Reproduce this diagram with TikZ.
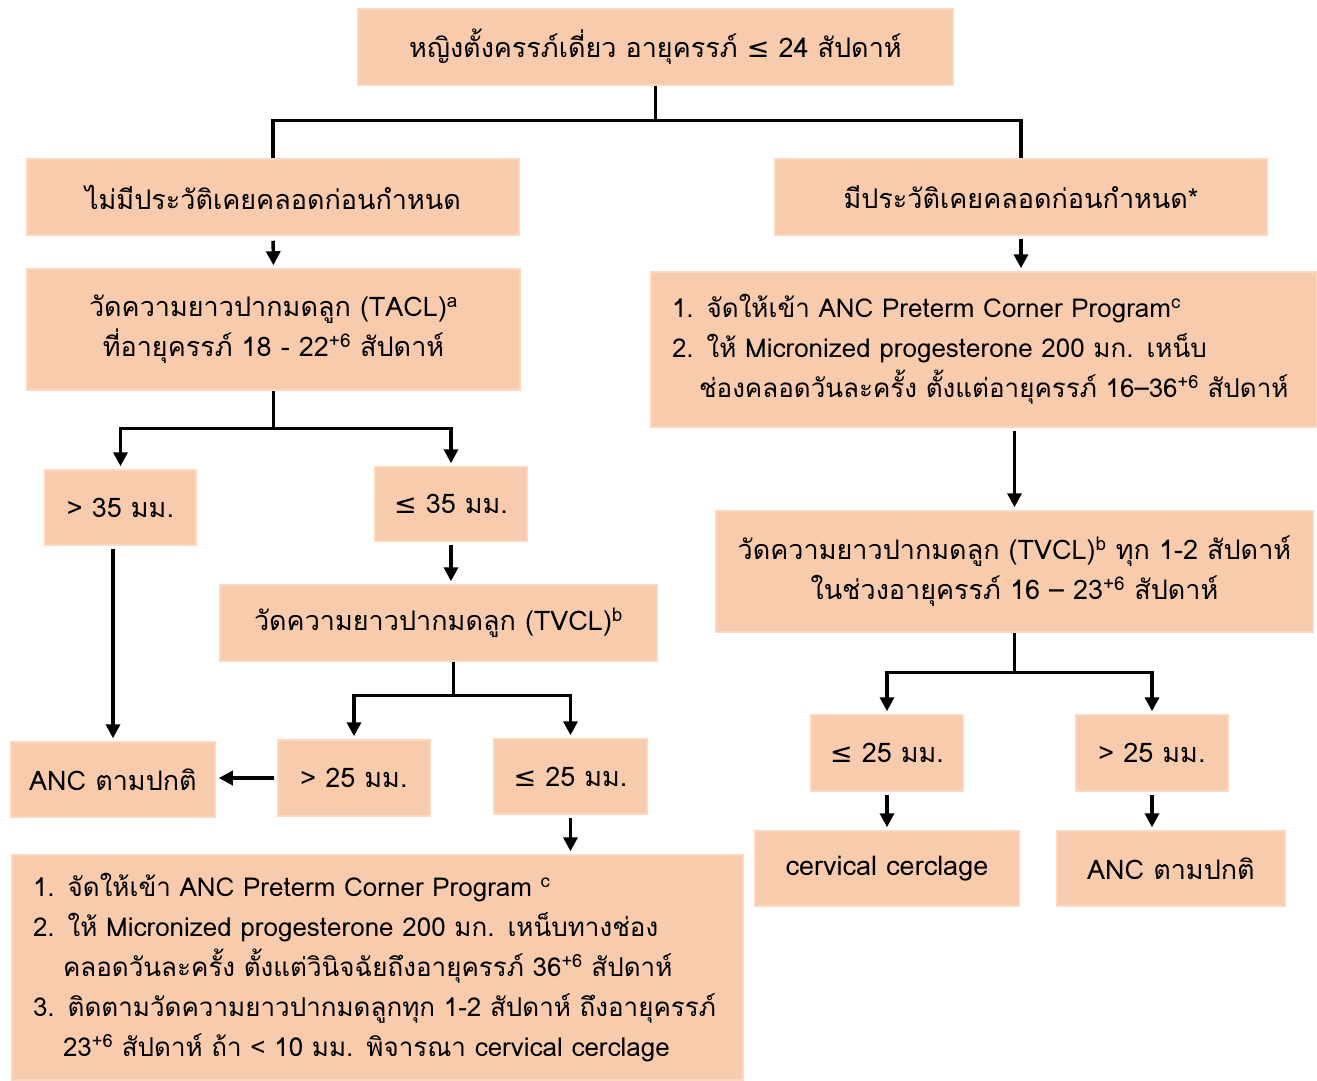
\documentclass[tikz,border=0pt]{standalone}
\usepackage{fontspec}
\setmainfont[Script=Thai]{Loma}
\newfontfamily\dvfont{DejaVu Sans}
\newcommand\lequ{{\dvfont ≤}}
\usetikzlibrary{arrows.meta}
\definecolor{boxfill}{HTML}{F8CBAD}
\definecolor{boxedge}{HTML}{FAD8C2}
\begin{document}
\begin{tikzpicture}[x=1pt,y=-1pt,
  box/.style={fill=boxfill, draw=boxedge, line width=1.5pt, inner sep=0pt, align=center, font=\fontsize{27}{40}\selectfont},
  listbox/.style={box, align=left, inner xsep=21pt},
  conn/.style={line width=3.4pt, black},
  arr/.style={conn, -{Triangle[length=14pt,width=14pt]}, shorten >=3pt}]
\fill[white] (0,0) rectangle (1317,1080);
\useasboundingbox (0,0) rectangle (1317,1080);

\node[box, minimum width=595pt, minimum height=76pt] (top) at (655.5,47) {หญิงตั้งครรภ์เดี่ยว อายุครรภ์ \lequ{} 24 สัปดาห์};
\node[box, minimum width=492pt, minimum height=76pt] (L1) at (273,197) {ไม่มีประวัติเคยคลอดก่อนกำหนด};
\node[box, minimum width=492pt, minimum height=76pt] (R1) at (1021,197) {มีประวัติเคยคลอดก่อนกำหนด*};
\node[box, minimum width=493pt, minimum height=121pt] (tacl) at (273.5,329.5) {วัดความยาวปากมดลูก (TACL)\textsuperscript{a}\\ที่อายุครรภ์ 18 - 22\textsuperscript{+6} สัปดาห์};
\node[listbox, minimum width=666pt, text width=624pt, minimum height=155pt, font=\fontsize{26}{40}\selectfont] (prog) at (984,349.5) {1. จัดให้เข้า ANC Preterm Corner Program\textsuperscript{c}\\2. ให้ Micronized progesterone 200 มก. เหน็บ\\\hspace*{27pt}ช่องคลอดวันละครั้ง ตั้งแต่อายุครรภ์ 16–36\textsuperscript{+6} สัปดาห์};
\node[box, minimum width=151pt, minimum height=75pt] (g35) at (120.5,507.5) {> 35 มม.};
\node[box, minimum width=152pt, minimum height=74pt] (le35) at (451,504) {\lequ{} 35 มม.};
\node[box, minimum width=437pt, minimum height=76pt] (tvclL) at (438.5,623) {วัดความยาวปากมดลูก (TVCL)\textsuperscript{b}};
\node[box, minimum width=597pt, minimum height=121pt] (tvclR) at (1014.5,571.5) {วัดความยาวปากมดลูก (TVCL)\textsuperscript{b} ทุก 1-2 สัปดาห์\\ในช่วงอายุครรภ์ 16 – 23\textsuperscript{+6} สัปดาห์};
\node[box, minimum width=204pt, minimum height=75pt] (ancL) at (113,779.5) {ANC ตามปกติ};
\node[box, minimum width=152pt, minimum height=76pt] (g25L) at (354,778) {> 25 มม.};
\node[box, minimum width=153pt, minimum height=75pt] (le25L) at (570.5,776.5) {\lequ{} 25 มม.};
\node[listbox, minimum width=731pt, text width=689pt, minimum height=225pt, font=\fontsize{26}{40}\selectfont] (bottom) at (377.5,967.5) {1. จัดให้เข้า ANC Preterm Corner Program \textsuperscript{c}\\2. ให้ Micronized progesterone 200 มก. เหน็บทางช่อง\\\hspace*{30pt}คลอดวันละครั้ง ตั้งแต่วินิจฉัยถึงอายุครรภ์ 36\textsuperscript{+6} สัปดาห์\\\mbox{3. ติดตามวัดความยาวปากมดลูกทุก 1-2 สัปดาห์ ถึงอายุครรภ์}\\\hspace*{30pt}23\textsuperscript{+6} สัปดาห์ ถ้า < 10 มม. พิจารณา cervical cerclage};
\node[box, minimum width=152pt, minimum height=76pt] (le25R) at (887,753) {\lequ{} 25 มม.};
\node[box, minimum width=152pt, minimum height=76pt] (g25R) at (1152,753) {> 25 มม.};
\node[box, minimum width=264pt, minimum height=75pt] (cerc) at (887,868.5) {cervical cerclage};
\node[box, minimum width=228pt, minimum height=75pt] (ancR) at (1171,868.5) {ANC ตามปกติ};

% connectors
\draw[conn] (top.south) -- ++(0,35) coordinate (j1);
\draw[conn] (L1.north) |- (j1) -| (R1.north);
\draw[arr, shorten <=5pt] (L1.south) -- (tacl.north);
\draw[conn] (tacl.south) -- ++(0,38) coordinate (j2);
\draw[arr] (j2) -| (g35.north);
\draw[arr] (j2) -| (le35.north);
\draw[arr, shorten <=3pt] (g35.south -| ancL.north) -- (ancL.north);
\draw[arr, shorten <=3pt] (le35.south) -- (le35.south |- tvclL.north);
\draw[conn] ([xshift=15pt]tvclL.south) -- ++(0,34) coordinate (j3);
\draw[arr] (j3) -| (g25L.north);
\draw[arr] (j3) -| (le25L.north);
\draw[arr, shorten <=3pt] (g25L.west) -- (ancL.east |- g25L.west);
\draw[arr, shorten <=3pt] (le25L.south) -- (le25L.south |- bottom.north);
\draw[arr, shorten <=3pt] (R1.south) -- (R1.south |- prog.north);
\draw[arr, shorten <=3pt] (prog.south -| tvclR.north) -- (tvclR.north);
\draw[conn] (tvclR.south) -- ++(0,40) coordinate (j4);
\draw[arr] (j4) -| (le25R.north);
\draw[arr] (j4) -| (g25R.north);
\draw[arr, shorten <=3pt] (le25R.south) -- (cerc.north);
\draw[arr, shorten <=3pt] (g25R.south) -- (g25R.south |- ancR.north);
\end{tikzpicture}
\end{document}
